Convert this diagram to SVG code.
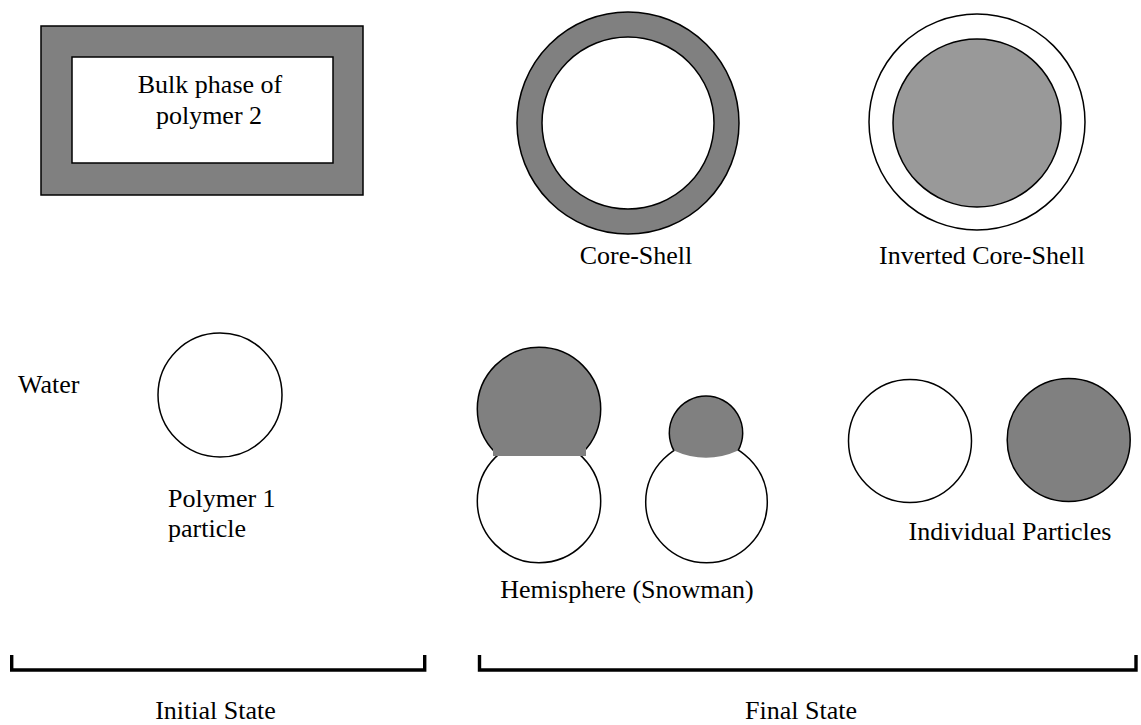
<svg xmlns="http://www.w3.org/2000/svg" width="1141" height="725" viewBox="0 0 1141 725">
<style>
  text { font-family: "Liberation Serif", "Times New Roman", serif; font-size: 26px; fill: #000; }
  .mid { text-anchor: middle; }
  .ln { stroke: #000; stroke-width: 1.5; }
  .dark { fill: #808080; }
  .light { fill: #999999; }
  .white { fill: #ffffff; }
  .br { fill: none; stroke: #000; stroke-width: 3.4; stroke-linejoin: miter; stroke-linecap: butt; }
</style>
<rect width="1141" height="725" fill="#ffffff"/>

<g id="bulk-phase">
  <rect class="dark ln" x="41" y="26" width="322" height="169"/>
  <rect class="white ln" x="72" y="57" width="261" height="106"/>
  <text class="mid" x="210" y="93">Bulk phase of</text>
  <text class="mid" x="209" y="124">polymer 2</text>
</g>

<g id="core-shell">
  <circle class="dark ln" cx="628" cy="123" r="111"/>
  <circle class="white ln" cx="628" cy="123" r="86"/>
  <text class="mid" x="636" y="264">Core-Shell</text>
</g>

<g id="inverted-core-shell">
  <circle class="white ln" cx="977" cy="122" r="108"/>
  <circle class="light ln" cx="977" cy="123" r="84"/>
  <text class="mid" x="982" y="264">Inverted Core-Shell</text>
</g>

<g id="water">
  <text x="18" y="393">Water</text>
</g>

<g id="polymer-1-particle">
  <circle class="white ln" cx="220" cy="395" r="62"/>
  <text x="168" y="507">Polymer 1</text>
  <text x="168" y="537">particle</text>
</g>

<g id="hemisphere-snowman">
  <circle class="dark ln" cx="539" cy="409" r="61.7"/>
  <circle class="white ln" cx="539" cy="501" r="61.7"/>
  <rect class="dark" x="493" y="437" width="93" height="19"/>

  <circle class="white ln" cx="706.5" cy="502" r="60.8"/>
  <path class="dark" d="M 673.8 450.4 A 36.7 36.7 0 1 1 738.2 450.4 Q 706 465 673.8 450.4 Z"/>
  <path class="ln" fill="none" d="M 673.8 450.4 A 36.7 36.7 0 1 1 738.2 450.4"/>
  <text class="mid" x="627" y="598">Hemisphere (Snowman)</text>
</g>

<g id="individual-particles">
  <circle class="white ln" cx="910" cy="441" r="61.5"/>
  <circle class="dark ln" cx="1068.7" cy="440" r="61.5"/>
  <text class="mid" x="1010" y="540">Individual Particles</text>
</g>

<g id="connectors">
  <path id="initial-bracket" class="br" d="M 11.7 655 V 670 H 424.7 V 655"/>
  <path id="final-bracket" class="br" d="M 479.5 655 V 670 H 1136 V 655"/>
</g>

<g id="state-labels">
  <text class="mid" x="215.5" y="719">Initial State</text>
  <text class="mid" x="801" y="719">Final State</text>
</g>
</svg>
